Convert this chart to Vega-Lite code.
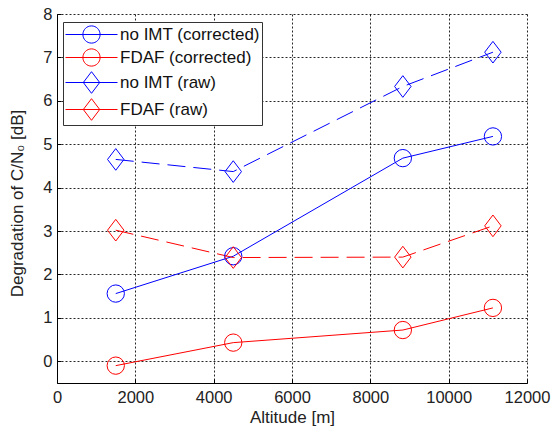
{
  "$schema": "https://vega.github.io/schema/vega-lite/v6.json",
  "width": 470,
  "height": 369,
  "autosize": {"type": "none"},
  "padding": {"left": 57, "top": 14, "right": 25, "bottom": 49},
  "background": "white",
  "config": {"view": {"stroke": null}, "font": "Liberation Sans"},
  "data": {
    "values": [
      {"series": "no IMT (corrected)", "alt": 1500, "deg": 1.56},
      {"series": "no IMT (corrected)", "alt": 4500, "deg": 2.42},
      {"series": "no IMT (corrected)", "alt": 8830, "deg": 4.68},
      {"series": "no IMT (corrected)", "alt": 11130, "deg": 5.18},
      {"series": "FDAF (corrected)", "alt": 1500, "deg": -0.1},
      {"series": "FDAF (corrected)", "alt": 4500, "deg": 0.43},
      {"series": "FDAF (corrected)", "alt": 8830, "deg": 0.72},
      {"series": "FDAF (corrected)", "alt": 11130, "deg": 1.23},
      {"series": "no IMT (raw)", "alt": 1500, "deg": 4.65},
      {"series": "no IMT (raw)", "alt": 4500, "deg": 4.37},
      {"series": "no IMT (raw)", "alt": 8830, "deg": 6.33},
      {"series": "no IMT (raw)", "alt": 11130, "deg": 7.12},
      {"series": "FDAF (raw)", "alt": 1500, "deg": 3.02},
      {"series": "FDAF (raw)", "alt": 4500, "deg": 2.39},
      {"series": "FDAF (raw)", "alt": 8830, "deg": 2.4},
      {"series": "FDAF (raw)", "alt": 11130, "deg": 3.12}
    ]
  },
  "encoding": {
    "x": {
      "field": "alt",
      "type": "quantitative",
      "scale": {"domain": [0, 12000], "nice": false, "zero": false},
      "axis": {
        "values": [0, 2000, 4000, 6000, 8000, 10000, 12000],
        "format": "d",
        "title": "Altitude [m]",
        "grid": true,
        "gridDash": [2, 2],
        "gridColor": "#000000",
        "gridOpacity": 0.85,
        "domainColor": "#000000",
        "tickColor": "#000000",
        "tickSize": -4,
        "labelPadding": 10,
        "labelFontSize": 16.5,
        "labelColor": "#222222",
        "labelFlush": false,
        "titleFontSize": 17,
        "titleFontWeight": "normal",
        "titleColor": "#222222",
        "titlePadding": 4
      }
    },
    "y": {
      "field": "deg",
      "type": "quantitative",
      "scale": {"domain": [-0.5, 8], "nice": false, "zero": false},
      "axis": {
        "values": [0, 1, 2, 3, 4, 5, 6, 7, 8],
        "title": "Degradation of C/N₀ [dB]",
        "titleY": 189,
        "grid": true,
        "gridDash": [2, 2],
        "gridColor": "#000000",
        "gridOpacity": 0.85,
        "domainColor": "#000000",
        "tickColor": "#000000",
        "tickSize": -4,
        "labelPadding": 9,
        "labelFontSize": 16.5,
        "labelColor": "#222222",
        "labelFlush": false,
        "titleFontSize": 17,
        "titleFontWeight": "normal",
        "titleColor": "#222222",
        "titlePadding": 16
      }
    },
    "color": {
      "field": "series",
      "type": "nominal",
      "scale": {
        "domain": ["no IMT (corrected)", "FDAF (corrected)", "no IMT (raw)", "FDAF (raw)"],
        "range": ["#0000ff", "#ff0000", "#0000ff", "#ff0000"]
      },
      "legend": {
        "orient": "none",
        "legendX": 6,
        "legendY": 8,
        "title": null,
        "padding": 2,
        "rowPadding": 0,
        "symbolSize": 400,
        "symbolOffset": 16,
        "labelOffset": 18,
        "labelFontSize": 17,
        "labelColor": "#111111",
        "labelLimit": 300,
        "strokeColor": "#333333",
        "fillColor": "#ffffff",
        "cornerRadius": 0,
        "symbolStrokeWidth": 1,
        "symbolFillColor": "transparent",
        "symbolType": {"expr": "indexof(datum.value, 'raw') >= 0 ? 'M-2.6,0L2.6,0M0,-1.08L0.82,0L0,1.08L-0.82,0Z' : 'M-2.6,0L2.6,0M0.86,0A0.86,0.86,0,1,1,-0.86,0A0.86,0.86,0,1,1,0.86,0'"}
      }
    }
  },
  "layer": [
    {
      "transform": [{"filter": "indexof(datum.series, 'raw') < 0"}],
      "mark": {"type": "line", "strokeWidth": 1}
    },
    {
      "transform": [{"filter": "indexof(datum.series, 'raw') >= 0"}],
      "mark": {"type": "line", "strokeWidth": 1, "strokeDash": [18, 8]}
    },
    {
      "transform": [{"filter": "indexof(datum.series, 'raw') < 0"}],
      "mark": {"type": "point", "shape": "circle", "filled": false, "strokeWidth": 1, "size": 300, "opacity": 1}
    },
    {
      "transform": [{"filter": "indexof(datum.series, 'raw') >= 0"}],
      "mark": {"type": "point", "shape": "M0,-1.25L0.95,0L0,1.25L-0.95,0Z", "filled": false, "strokeWidth": 1, "size": 300, "opacity": 1}
    }
  ]
}
